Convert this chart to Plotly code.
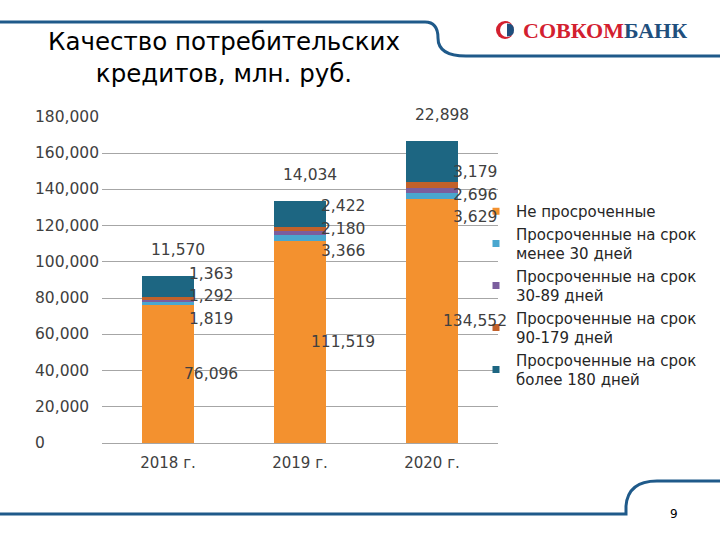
import plotly.graph_objects as go

# ---------------- data ----------------
years = ["2018 г.", "2019 г.", "2020 г."]
series_names = [
    "Не просроченные",
    "Просроченные на срок<br>менее 30 дней",
    "Просроченные на срок<br>30-89 дней",
    "Просроченные на срок<br>90-179 дней",
    "Просроченные на срок<br>более 180 дней",
]
not_overdue = [76096, 111519, 134552]
overdue_lt30 = [1819, 3366, 3629]
overdue_30_89 = [1292, 2180, 2696]
overdue_90_179 = [1363, 2422, 3179]
overdue_gt180 = [11570, 14034, 22898]
y_tick_values = [0, 20000, 40000, 60000, 80000, 100000, 120000, 140000, 160000, 180000]
y_tick_labels = ["0", "20,000", "40,000", "60,000", "80,000", "100,000",
                 "120,000", "140,000", "160,000", "180,000"]
title_lines = ["Качество потребительских", "кредитов, млн. руб."]
logo_red = "СОВКОМ"
logo_blue = "БАНК"
page_number = "9"

series_values = [not_overdue, overdue_lt30, overdue_30_89, overdue_90_179, overdue_gt180]
colors = ["#F3912F", "#4AA7CF", "#7B5E9E", "#C2612A", "#1D6682"]
# small per-year nudge (px) of the stacked small-segment labels, as in the source slide
label_nudge_px = [5, 5, -4]

# ---------------- geometry helpers (decoration only) ----------------
W, H = 720, 540
ML, MR, MT, MB = 102, 222, 117, 97
PW, PH = W - ML - MR, H - MT - MB
FONT = "DejaVu Sans, Liberation Sans, Arial, sans-serif"


def px(x):
    return (x - ML) / PW


def py(y):
    return (H - MB - y) / PH


def path(points_cmds):
    out = []
    for cmd, *pts in points_cmds:
        coords = []
        for i in range(0, len(pts), 2):
            coords.append(f"{px(pts[i]):.5f},{py(pts[i+1]):.5f}")
        out.append(cmd + " ".join(coords))
    return " ".join(out)


fig = go.Figure()

for name, vals, col in zip(series_names, series_values, colors):
    fig.add_trace(go.Bar(
        x=years, y=vals, name=name, marker=dict(color=col, line=dict(width=0)),
        legendgroup=name, showlegend=False, width=0.4,
        hovertemplate="%{x}: %{y:,}<extra></extra>",
    ))
    fig.add_trace(go.Scatter(
        x=[None], y=[None], mode="markers", name=name, legendgroup=name,
        marker=dict(symbol="square", size=7, color=col),
    ))

label_font = dict(family=FONT, size=15.5, color="#404040")
annotations = []

# data labels
for i, yr in enumerate(years):
    base = not_overdue[i]
    annotations.append(dict(x=yr, y=base / 2, xref="x", yref="y", text=f"{base:,}",
                            showarrow=False, xshift=43, font=label_font))
    small = [overdue_lt30[i], overdue_30_89[i], overdue_90_179[i]]
    mid = base + sum(small) / 2
    for k, v in enumerate(small):
        annotations.append(dict(x=yr, y=mid, xref="x", yref="y", text=f"{v:,}",
                                showarrow=False, xshift=43,
                                yshift=(k - 1) * 22.5 + label_nudge_px[i],
                                font=label_font))
    total = base + sum(small) + overdue_gt180[i]
    annotations.append(dict(x=yr, y=total, xref="x", yref="y", text=f"{overdue_gt180[i]:,}",
                            showarrow=False, xshift=10, yshift=26, font=label_font))

# y tick labels (left aligned)
for v, t in zip(y_tick_values, y_tick_labels):
    annotations.append(dict(x=px(33), y=v, xref="paper", yref="y", text=t,
                            xanchor="left", yanchor="middle",
                            showarrow=False, font=label_font))

# title
annotations.append(dict(x=px(224), y=py(58), xref="paper", yref="paper",
                        xanchor="center", yanchor="middle",
                        text="<br>".join(title_lines), showarrow=False, align="center",
                        font=dict(family=FONT, size=24.5, color="#000000")))

# logo text
annotations.append(dict(x=px(521), y=py(30), xref="paper", yref="paper",
                        xanchor="left", yanchor="middle",
                        text=f"<b><span style='color:#D3202F'>{logo_red}</span>"
                             f"<span style='color:#1F4F7D'>{logo_blue}</span></b>",
                        showarrow=False,
                        font=dict(family="Liberation Serif, DejaVu Serif, serif", size=22)))
# page number
annotations.append(dict(x=px(674), y=py(514), xref="paper", yref="paper", text=page_number,
                        xanchor="center", yanchor="middle",
                        showarrow=False, font=dict(family=FONT, size=12, color="#000")))

line_col = "#1F5A8A"
shapes = [
    dict(type="path", xref="paper", yref="paper",
         path=path([("M", 0, 22), ("L", 425, 22), ("Q", 438, 22, 438, 38),
                    ("Q", 438, 56, 466, 56), ("L", 720, 56)]),
         line=dict(color=line_col, width=3), layer="above"),
    dict(type="path", xref="paper", yref="paper",
         path=path([("M", 0, 514), ("L", 626, 514), ("L", 626, 506),
                    ("Q", 628, 481, 657, 481), ("L", 720, 481)]),
         line=dict(color=line_col, width=3), layer="above"),
    # logo icon
    dict(type="circle", xref="paper", yref="paper",
         x0=px(496), x1=px(514), y0=py(39), y1=py(21),
         fillcolor="#D3202F", line=dict(width=0)),
    dict(type="circle", xref="paper", yref="paper",
         x0=px(500), x1=px(514), y0=py(37), y1=py(23),
         fillcolor="#FFFFFF", line=dict(width=0)),
    dict(type="path", xref="paper", yref="paper",
         path=path([("M", 507, 23.5), ("Q", 514, 23.5, 514, 30), ("Q", 514, 36.5, 507, 36.5), ("Z",)]),
         fillcolor="#1F4F7D", line=dict(width=0)),
]

fig.update_layout(
    width=W, height=H,
    margin=dict(l=ML, r=MR, t=MT, b=MB, pad=0, autoexpand=False),
    paper_bgcolor="white", plot_bgcolor="white",
    barmode="stack", bargap=0.6,
    font=dict(family=FONT, color="#404040"),
    xaxis=dict(type="category", range=[-0.5, 2.5], showgrid=False, ticks="",
               showline=True, linecolor="#A6A6A6",
               tickfont=dict(size=15, color="#404040"), ticklabelstandoff=6),
    yaxis=dict(range=[0, 180000], tickvals=y_tick_values, showticklabels=False,
               showgrid=True, gridcolor="#A6A6A6", gridwidth=1, zeroline=False, showline=False),
    legend=dict(x=px(476), y=py(195), xanchor="left", yanchor="top",
                traceorder="normal", bgcolor="rgba(0,0,0,0)",
                font=dict(family=FONT, size=15, color="#262626"), itemclick="toggle"),
    annotations=annotations,
    shapes=shapes,
)

fig.write_html("out.html")
